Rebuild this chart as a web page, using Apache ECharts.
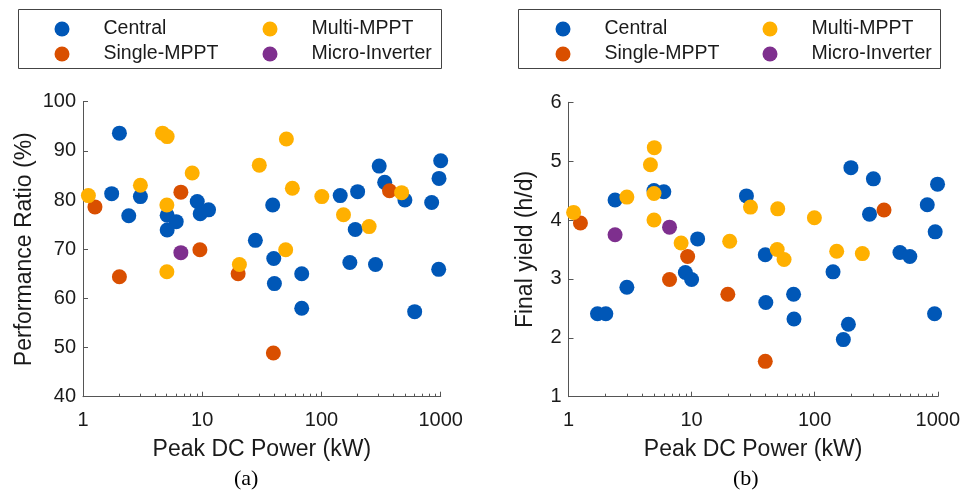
<!DOCTYPE html>
<html>
<head>
<meta charset="utf-8">
<script src="https://cdn.jsdelivr.net/npm/echarts@6/dist/echarts.min.js"></script>
<style>
html,body{margin:0;padding:0;background:#fff;}
#chart{width:963px;height:494px;}
</style>
</head>
<body>
<div id="chart"></div>
<script>
// ---------- Data (a): Performance Ratio (%) vs Peak DC Power (kW) ----------
const centralP_a  = [2.02,1.74,3.03,2.42,5.08,6.05,5.08,9.08,9.62,11.3,27.9,39,39.8,40.3,68.3,68.3,143.6,201,192,173,284,305,339,501,605,840,962,968,1000];
const centralY_a  = [93.6,81.3,80.7,76.8,76.9,75.6,73.9,79.7,77.2,78.0,71.8,79.0,68.1,63.0,65.0,58.0,80.9,81.7,74.0,67.3,66.9,86.9,83.6,80.0,57.3,79.5,65.9,84.4,88.0];
const singleP_a   = [6.62,1.26,9.56,2.02,20,39.5,372];
const singleY_a   = [81.6,78.6,69.9,64.4,65.0,48.9,81.9];
const multiP_a    = [4.64,5.08,8.24,30.1,3.03,1.11,5.05,5.05,20.5,50.8,57,100.7,153,251,50.1,470];
const multiY_a    = [93.6,92.9,85.5,87.1,83.0,80.9,79.0,65.4,66.9,92.4,82.4,80.7,77.0,74.6,69.9,81.5];
const microP_a    = [6.62];
const microY_a    = [69.3];

// ---------- Data (b): Final yield (h/d) vs Peak DC Power (kW) ----------
const centralP_b  = [4.95,5.95,2.39,11.2,27.9,197,300,996,822,279,953,493,593,39.7,141,67.4,40.1,67.9,188,171,942,8.9,10.0,2.98,1.72,2.01];
const centralY_b  = [4.50,4.48,4.34,3.68,4.41,4.89,4.70,4.61,4.26,4.10,3.80,3.45,3.38,3.41,3.12,2.74,2.60,2.32,2.23,1.97,2.41,3.11,2.99,2.86,2.41,2.41];
const singleP_b   = [1.25,9.29,6.62,19.7,39.7,366];
const singleY_b   = [3.95,3.38,2.99,2.74,1.60,4.17];
const multiP_b    = [4.98,4.63,4.95,2.98,1.10,4.95,8.22,20.4,30.1,50.1,99.5,49.6,56.4,151,244];
const multiY_b    = [5.23,4.94,4.45,4.39,4.13,4.00,3.61,3.64,4.22,4.19,4.04,3.50,3.33,3.47,3.43];
const microP_b    = [2.39,6.62];
const microY_b    = [3.75,3.88];

// ---------- Labels ----------
const seriesNames = ['Central','Single-MPPT','Multi-MPPT','Micro-Inverter'];
const xName = 'Peak DC Power (kW)';
const yNameA = 'Performance Ratio (%)';
const yNameB = 'Final yield (h/d)';
const panelLabels = ['(a)','(b)'];

// ---------- Styling ----------
const colors = ['#0057B7','#D94F00','#FFB000','#7E2F8E'];
const FONT = '"Liberation Sans", Arial, sans-serif';
const AXIS_COLOR = '#555';
const TEXT_COLOR = '#1a1a1a';

// minor tick values for log axis (2..9 in each decade)
const minorTicks = [];
for (let d = 1; d < 1000; d *= 10) for (let k = 2; k <= 9; k++) minorTicks.push(k * d);

const zip = (xs, ys) => xs.map((x, i) => [x, ys[i]]);

function xAxes(gridIndex) {
  return [
    {
      type: 'log', logBase: 10, gridIndex, min: 1, max: 1000,
      name: xName, nameLocation: 'middle', nameGap: 41,
      nameTextStyle: { fontFamily: FONT, fontSize: 23, color: TEXT_COLOR },
      axisLine: { show: true, lineStyle: { color: AXIS_COLOR, width: 1 } },
      axisTick: { show: true, inside: true, length: 5, lineStyle: { color: AXIS_COLOR } },
      axisLabel: { fontFamily: FONT, fontSize: 20, color: TEXT_COLOR, margin: 14, formatter: v => String(v) },
      splitLine: { show: false }
    },
    {
      type: 'log', logBase: 10, gridIndex, min: 1, max: 1000, position: 'bottom',
      axisLine: { show: false },
      axisTick: { show: true, inside: true, length: 3, customValues: minorTicks, lineStyle: { color: AXIS_COLOR } },
      axisLabel: { show: false },
      splitLine: { show: false }
    }
  ];
}

function yAxis(gridIndex, min, max, interval, name, gap) {
  return {
    type: 'value', gridIndex, min, max, interval,
    name, nameLocation: 'middle', nameGap: gap,
    nameTextStyle: { fontFamily: FONT, fontSize: 23, color: TEXT_COLOR },
    axisLine: { show: true, lineStyle: { color: AXIS_COLOR, width: 1 } },
    axisTick: { show: true, inside: true, length: 5, lineStyle: { color: AXIS_COLOR } },
    axisLabel: { fontFamily: FONT, fontSize: 20, color: TEXT_COLOR, margin: 7 },
    splitLine: { show: false }
  };
}

function scatter(name, xi, yi, data, color) {
  return {
    type: 'scatter', name, xAxisIndex: xi, yAxisIndex: yi, data,
    symbol: 'circle', symbolSize: 15,
    itemStyle: { color, opacity: 1 },
    emphasis: { disabled: true }
  };
}

function legend(names, left) {
  return {
    data: names, orient: 'vertical', left, top: 19, padding: 0,
    itemWidth: 15, itemHeight: 15, itemGap: 5, icon: 'circle',
    selectedMode: false,
    textStyle: { fontFamily: FONT, fontSize: 19.5, color: TEXT_COLOR, lineHeight: 20, padding: [0, 0, 0, 29] }
  };
}

const chart = echarts.init(document.getElementById('chart'), null, { renderer: 'canvas' });
chart.setOption({
  backgroundColor: '#fff',
  animation: false,
  color: colors,
  grid: [
    { left: 83, right: 522.3, top: 101.7, bottom: 97.3, containLabel: false },
    { left: 568.5, right: 22.8, top: 102.3, bottom: 97.3, containLabel: false }
  ],
  xAxis: [...xAxes(0), ...xAxes(1)],
  yAxis: [yAxis(0, 40, 100, 10, yNameA, 47), yAxis(1, 1, 6, 1, yNameB, 31)],
  legend: [
    legend([seriesNames[0], seriesNames[1]], 54.5),
    legend([seriesNames[2], seriesNames[3]], 262.5),
    legend([seriesNames[0], seriesNames[1]], 555.5),
    legend([seriesNames[2], seriesNames[3]], 762.5)
  ],
  graphic: [
    { type: 'rect', shape: { x: 18.5, y: 9.5, width: 423, height: 59 }, style: { fill: 'none', stroke: '#444', lineWidth: 1 }, silent: true, z: -1 },
    { type: 'rect', shape: { x: 518.5, y: 9.5, width: 422, height: 59 }, style: { fill: 'none', stroke: '#444', lineWidth: 1 }, silent: true, z: -1 },
    { type: 'text', left: 247 - 13, top: 468, style: { text: panelLabels[0], font: '22px "Liberation Serif", "Times New Roman", serif', fill: '#000' } },
    { type: 'text', left: 746 - 13, top: 468, style: { text: panelLabels[1], font: '22px "Liberation Serif", "Times New Roman", serif', fill: '#000' } }
  ],
  series: [
    scatter(seriesNames[0], 0, 0, zip(centralP_a, centralY_a), colors[0]),
    scatter(seriesNames[1], 0, 0, zip(singleP_a, singleY_a), colors[1]),
    scatter(seriesNames[2], 0, 0, zip(multiP_a, multiY_a), colors[2]),
    scatter(seriesNames[3], 0, 0, zip(microP_a, microY_a), colors[3]),
    scatter(seriesNames[0], 2, 1, zip(centralP_b, centralY_b), colors[0]),
    scatter(seriesNames[1], 2, 1, zip(singleP_b, singleY_b), colors[1]),
    scatter(seriesNames[2], 2, 1, zip(multiP_b, multiY_b), colors[2]),
    scatter(seriesNames[3], 2, 1, zip(microP_b, microY_b), colors[3])
  ]
});
</script>
</body>
</html>
